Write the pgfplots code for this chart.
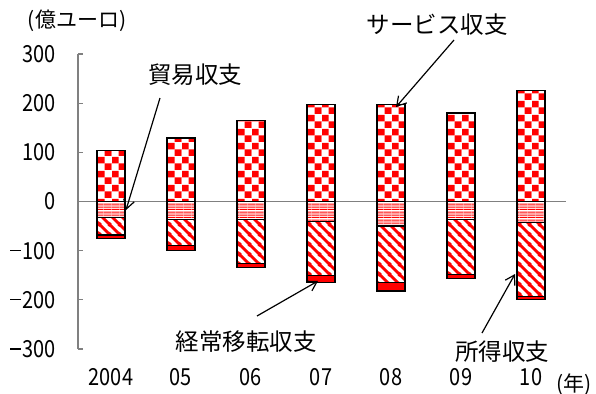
\documentclass[border=0pt]{standalone}
\usepackage{fontspec}
\usepackage{pgfplots}
\pgfplotsset{compat=1.18}
\usetikzlibrary{patterns.meta,arrows.meta}

\setmainfont{Noto Sans CJK JP}
\newfontfamily\numfont{Noto Sans CJK JP}[FakeStretch=0.85]
\newcommand\labelsize{\fontsize{23.5bp}{28bp}\selectfont}
\newcommand\unitsize{\fontsize{21bp}{25bp}\selectfont}
% minus sign for the negative tick labels
\newcommand\mns{\rule[0.33em]{0.46em}{0.065em}\kern0.06em}

\definecolor{axisgray}{RGB}{128,128,128}
\definecolor{barred}{RGB}{255,0,0}

% services: red/white checkerboard
\tikzdeclarepattern{
  name=checks, type=colored,
  bottom left={(0bp,0bp)}, top right={(14bp,14bp)}, tile size={(14bp,14bp)},
  code={
    \fill[white] (0bp,0bp) rectangle (14bp,14bp);
    \fill[barred] (0bp,7bp) rectangle (7bp,14bp);
    \fill[barred] (7bp,0bp) rectangle (14bp,7bp);
  }
}
% trade: fine horizontal red lines
\tikzdeclarepattern{
  name=hlines, type=colored,
  bottom left={(0bp,0bp)}, top right={(8bp,8bp)}, tile size={(8bp,8bp)},
  code={
    \fill[white] (0bp,0bp) rectangle (8bp,8bp);
    \fill[barred] (0bp,0bp) rectangle (8bp,0.9bp);
    \fill[barred] (0bp,2bp) rectangle (8bp,2.9bp);
    \fill[barred] (0bp,4bp) rectangle (8bp,4.9bp);
    \fill[barred] (0bp,6bp) rectangle (8bp,6.9bp);
  }
}
% income: wide diagonal stripes
\tikzdeclarepattern{
  name=dstripes, type=colored,
  bottom left={(0bp,0bp)}, top right={(10bp,10bp)}, tile size={(10bp,10bp)},
  code={
    \fill[white] (0bp,0bp) rectangle (10bp,10bp);
    \draw[barred, line width=3bp] (-1bp,11bp) -- (11bp,-1bp);
    \draw[barred, line width=3bp] (-1bp,1bp) -- (1bp,-1bp);
    \draw[barred, line width=3bp] (9bp,11bp) -- (11bp,9bp);
  }
}

\pgfplotsset{
  framebox/.style={
    scale only axis, width=488bp, height=295bp,
    xmin=-0.4714, xmax=6.5, ymin=-300, ymax=300,
    bar width=28bp,
    anchor=north west, at={(78bp,-54bp)},
  },
  segment/.style={draw=black, line width=1.2bp},
}

\begin{document}
\begin{tikzpicture}
\path[use as bounding box] (0bp,0bp) rectangle (596bp,-394bp);

% positive part (services) with the axis frame
\begin{axis}[framebox, ybar,
  axis lines*=left,
  x axis line style={draw=none},
  y axis line style={draw=axisgray, line width=1.2bp},
  xtick={0,...,6},
  xticklabels={2004,05,06,07,08,09,10},
  xtick style={draw=none},
  ytick={-300,-200,-100,0,100,200,300},
  yticklabels={\mns300,\mns200,\mns100,0,100,200,300},
  ytick style={draw=axisgray, line width=1.2bp},
  tick align=inside,
  major tick length=5bp,
  yticklabel style={font=\numfont\labelsize, anchor=east, inner sep=0pt, xshift=-22bp},
  xticklabel style={font=\numfont\labelsize, anchor=north, inner sep=0pt, yshift=-19bp},
]
\draw[axisgray, line width=1.8bp] (axis cs:-0.4714,0) -- (axis cs:6.5,0);
\addplot[segment, pattern=checks] coordinates {
  (0,104) (1,129) (2,165) (3,197) (4,197) (5,180) (6,226)};
\end{axis}

% negative part: trade, income, current transfers
\begin{axis}[framebox, ybar stacked, hide axis]
\addplot[segment, pattern=hlines] coordinates {
  (0,-33) (1,-36) (2,-36) (3,-40) (4,-50) (5,-36) (6,-42)};
\addplot[segment, pattern=dstripes] coordinates {
  (0,-35) (1,-54) (2,-90) (3,-110) (4,-115) (5,-113) (6,-151)};
\addplot[segment, fill=barred] coordinates {
  (0,-7) (1,-10) (2,-9) (3,-14) (4,-17) (5,-8) (6,-7)};
\end{axis}

% labels and pointers
\node[font=\unitsize, inner sep=0pt] at (77bp,-21bp) {(億ユーロ)};
\node[font=\unitsize, inner sep=0pt] at (574bp,-385bp) {(年)};
\node[font=\labelsize, inner sep=0pt] at (195bp,-75bp) {貿易収支};
\node[font=\labelsize, inner sep=0pt] at (437bp,-25bp) {サービス収支};
\node[font=\labelsize, inner sep=0pt] at (246bp,-342bp) {経常移転収支};
\node[font=\labelsize, inner sep=0pt] at (502bp,-352bp) {所得収支};

\begin{scope}[line width=1.2bp, -{Straight Barb[length=9bp,width=11bp]}]
\draw (160bp,-98bp) -- (126bp,-210bp);
\draw (454bp,-40bp) -- (396bp,-107bp);
\draw (257bp,-316bp) -- (318bp,-281bp);
\draw (482bp,-333bp) -- (515bp,-274bp);
\end{scope}
\end{tikzpicture}
\end{document}
